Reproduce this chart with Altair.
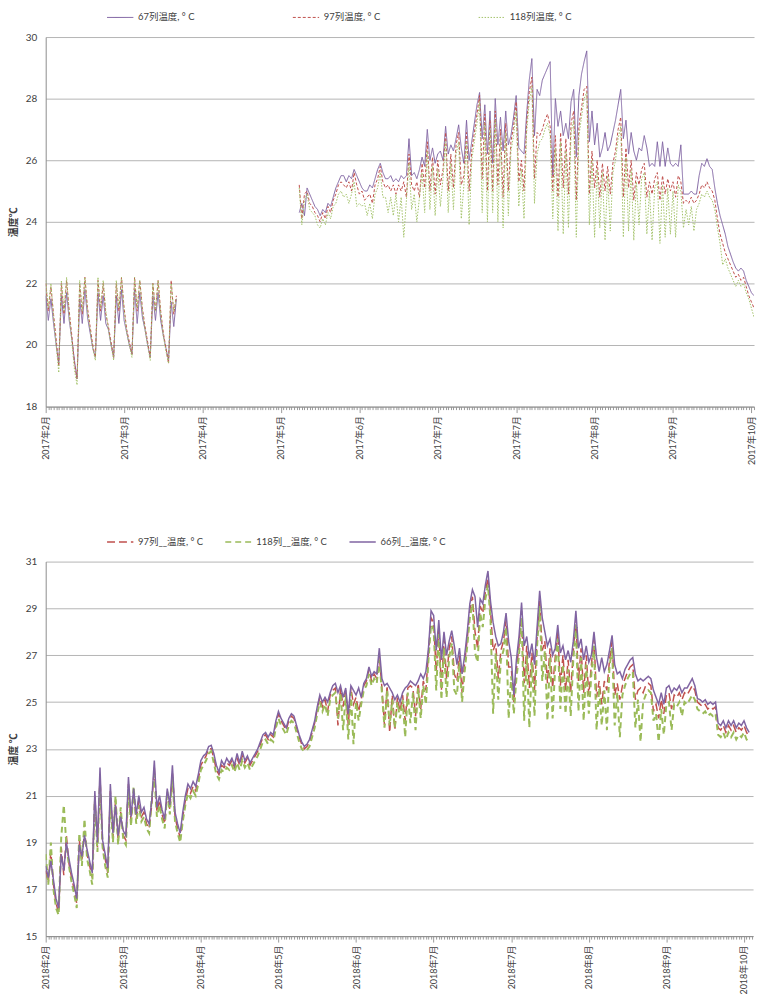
import altair as alt
import pandas as pd

FONT = "Lato, 'Noto Sans CJK SC', sans-serif"

# ---------------- 2017 panel (daily values) ----------------
top_names = ["67列温度, ° C", "97列温度, ° C", "118列温度, ° C"]
top_seg_a_start = "2017-02-01"
top_seg_b_start = "2017-05-09"

top_a_67 = [21.6,20.8,21.5,20.7,20.0,19.4,21.6,20.7,21.7,20.8,
            20.2,19.5,18.9,21.5,20.7,21.8,20.9,20.4,19.9,19.6,
            21.7,20.8,21.6,20.7,20.5,20.0,19.6,21.6,20.7,21.8,
            20.8,20.4,20.0,19.7,21.8,20.7,21.7,20.9,20.5,20.0,
            19.6,21.6,20.8,21.7,20.8,20.3,19.9,19.5,21.4,20.6,21.5]
top_a_97 = [22.0,21.1,21.9,21.0,20.2,19.3,22.0,21.0,22.1,21.1,
            20.3,19.4,18.9,22.0,21.0,22.2,21.2,20.6,20.0,19.6,
            22.1,21.1,22.0,21.0,20.6,20.1,19.6,22.0,21.1,22.2,
            21.2,20.5,20.1,19.7,22.2,21.1,22.1,21.2,20.6,20.1,
            19.6,22.0,21.1,22.1,21.1,20.4,19.9,19.4,22.1,21.0,21.6]
top_a_118 = [22.1,21.2,22.0,20.9,20.0,19.1,22.1,21.1,22.2,21.0,
             20.1,19.2,18.7,22.1,21.1,22.2,21.1,20.5,19.9,19.5,
             22.2,21.2,22.1,21.1,20.5,20.0,19.5,22.1,21.2,22.2,
             21.1,20.4,20.0,19.6,22.2,21.2,22.1,21.1,20.5,20.0,
             19.5,22.0,21.1,22.1,21.0,20.3,19.8,19.4,22.0,21.1,21.5]

top_b_67 = [24.3,24.6,24.2,25.1,24.9,24.7,24.5,24.4,24.2,24.4,
            24.3,24.6,24.5,24.8,25.1,25.3,25.5,25.5,25.3,25.5,
            25.4,25.7,25.5,25.3,25.1,25.0,25.0,25.2,25.1,25.4,
            25.7,25.9,25.6,25.4,25.4,25.5,25.3,25.4,25.3,25.5,
            25.4,25.5,26.7,25.5,25.6,25.4,25.7,26.1,25.8,27.0,
            26.0,26.4,25.9,26.2,26.3,26.0,27.1,26.2,26.5,26.3,
            26.7,27.15,26.4,25.9,27.3,26.0,26.6,27.2,27.8,28.2,
            26.7,27.8,26.2,27.6,25.9,28.0,26.5,27.4,26.3,27.6,
            26.5,26.8,27.4,28.1,26.4,26.3,26.2,27.5,28.6,29.3,
            26.8,28.3,28.1,28.6,28.8,29.0,29.2,25.5,28.0,27.1,
            27.6,26.8,27.2,26.7,27.9,28.3,26.1,28.1,28.8,29.2,
            29.55,26.6,27.6,26.5,27.2,26.1,26.4,26.9,26.3,26.5,
            26.9,27.3,27.8,28.3,26.7,27.3,26.2,26.9,26.3,26.0,
            26.4,26.3,26.8,26.4,25.8,25.9,25.8,26.6,25.8,26.6,
            25.8,26.4,25.9,25.8,25.9,25.8,26.5,24.9,24.9,24.9,
            25.0,24.9,24.9,25.5,25.9,25.8,26.05,25.8,25.7,25.1,
            24.6,24.2,23.9,23.6,23.2,22.95,22.7,22.5,22.4,22.5,
            22.4,22.1,21.9,21.7,21.6]
top_b_97 = [25.2,24.1,24.9,25.0,24.6,24.5,24.3,24.2,24.0,24.3,
            24.1,24.5,24.3,24.7,24.9,25.2,25.3,25.2,25.1,25.3,
            25.0,25.6,25.2,24.9,25.0,24.7,24.8,24.9,24.6,25.2,
            25.4,25.8,25.3,25.1,25.2,25.0,25.2,24.9,25.2,25.0,
            25.3,24.8,26.2,25.2,25.0,25.3,24.8,25.9,25.1,26.6,
            25.0,26.1,24.9,26.0,25.2,25.7,26.9,25.0,26.2,25.1,
            26.5,26.9,25.2,25.5,26.9,25.0,26.3,26.9,27.5,28.1,
            25.4,27.5,25.0,27.3,25.0,27.6,25.2,27.0,24.8,27.2,
            25.0,26.6,27.1,27.9,25.3,26.0,25.0,27.2,28.2,28.7,
            25.4,26.9,26.8,27.0,27.3,27.5,27.1,25.0,26.8,24.8,
            26.9,25.1,26.7,24.9,27.2,27.6,24.7,27.1,27.7,28.3,
            28.4,24.9,26.3,25.1,26.0,24.8,25.9,25.0,25.8,24.9,
            25.9,26.3,27.0,27.4,24.8,26.4,25.1,26.0,24.7,25.6,
            25.2,25.7,25.9,24.8,25.3,24.9,25.4,25.6,24.7,25.5,
            24.9,25.4,25.0,25.3,24.8,25.5,25.3,24.6,24.7,24.6,
            24.8,24.6,24.7,24.9,25.2,25.1,25.3,25.1,25.0,24.7,
            24.1,23.6,23.3,23.0,22.8,22.6,22.4,22.2,22.3,22.1,
            22.2,21.9,21.6,21.4,21.2]
top_b_118 = [25.1,23.9,24.7,24.9,24.4,24.3,24.2,23.9,23.8,24.1,
             23.9,24.3,24.1,24.5,24.6,24.9,25.0,24.8,24.9,24.6,
             24.9,25.3,24.5,24.6,24.5,24.6,24.2,24.6,24.1,24.9,
             25.1,25.6,24.8,24.8,24.3,24.8,24.2,24.9,24.0,24.8,
             23.5,24.7,25.9,24.4,24.9,24.0,24.8,25.6,24.3,26.3,
             24.4,25.8,24.2,25.7,24.5,25.4,26.6,24.3,25.9,24.4,
             26.2,26.6,24.1,25.2,26.6,23.9,26.0,26.6,27.2,27.9,
             24.3,27.2,24.0,27.0,24.3,27.3,24.0,26.7,23.8,26.9,
             24.2,26.3,26.8,27.6,24.5,25.7,24.1,26.9,27.9,28.4,
             24.6,26.2,26.6,26.7,27.0,27.2,26.8,24.1,26.4,23.7,
             26.6,23.6,26.3,23.8,26.9,27.3,23.5,26.8,27.4,28.0,
             28.2,23.9,26.0,23.5,25.7,23.8,25.6,23.4,25.5,23.7,
             25.6,26.0,26.7,27.1,23.5,26.1,23.7,25.7,23.4,25.3,
             23.9,25.4,25.6,23.6,25.0,23.4,25.1,25.3,23.3,25.2,
             23.5,25.1,23.6,25.0,23.5,25.2,25.0,23.8,24.4,23.9,
             24.5,23.7,24.4,24.6,24.9,24.8,25.0,24.8,24.7,24.4,
             23.8,23.3,22.6,22.8,22.5,22.3,22.1,21.9,22.1,21.9,
             22.0,21.7,21.5,21.2,20.9]

# ---------------- 2018 panel (daily values) ----------------
bot_names = ["97列__温度, ° C", "118列__温度, ° C", "66列__温度, ° C"]
bot_start = "2018-02-01"

bot_97 = [17.8,17.3,18.6,17.2,16.4,16.0,18.8,17.6,19.3,18.1,
          17.5,17.0,16.4,19.1,18.2,19.5,18.5,18.0,17.5,21.0,
          18.8,21.8,18.9,18.3,17.7,21.2,19.2,20.8,19.1,20.3,
          19.3,19.1,21.5,19.9,21.1,20.0,20.8,20.1,20.3,19.8,
          19.6,20.6,22.2,20.3,20.8,20.2,19.8,21.1,20.4,22.0,
          20.1,19.6,19.2,20.1,20.8,21.3,21.1,21.4,21.2,21.7,
          22.3,22.5,22.7,23.0,23.0,22.6,22.1,21.9,22.3,22.2,
          22.4,22.3,22.5,22.2,22.6,22.3,22.7,22.4,22.6,22.3,
          22.5,22.7,22.9,23.2,23.5,23.6,23.4,23.6,23.5,24.1,
          24.5,24.2,24.0,23.8,24.2,24.4,24.3,23.9,23.5,23.2,
          23.0,23.1,23.3,23.7,24.1,24.7,25.2,24.8,25.1,24.6,
          25.3,25.5,25.6,24.0,25.6,24.8,25.5,24.0,25.6,24.9,
          25.2,24.6,25.1,25.7,25.9,26.4,25.9,26.2,26.0,27.0,
          25.6,24.0,25.7,23.7,25.3,23.8,25.2,24.6,25.3,24.2,
          25.6,25.7,25.6,24.4,25.8,24.7,25.9,25.5,27.1,28.6,
          28.4,26.3,28.2,25.5,27.7,26.0,27.3,27.8,26.2,25.9,
          27.0,25.4,26.7,27.7,28.9,29.5,28.0,27.3,29.1,28.8,
          29.7,30.3,28.9,27.2,27.5,26.0,27.2,27.6,28.5,26.5,
          26.5,25.0,26.4,27.4,28.9,25.8,27.4,25.6,27.1,25.5,
          27.8,29.4,27.2,27.6,25.8,27.3,25.6,26.9,28.0,25.7,
          27.0,25.5,26.8,25.4,27.2,28.6,25.9,27.3,25.4,27.0,
          25.3,26.6,27.7,25.2,25.9,24.9,25.9,25.5,26.8,27.6,
          25.3,25.8,25.1,25.7,26.0,26.3,26.5,26.6,25.1,25.5,
          25.6,25.4,25.7,25.8,25.7,24.6,24.9,24.3,25.1,24.5,
          25.3,25.4,24.7,25.3,25.2,25.4,25.1,25.4,25.3,25.5,
          25.7,25.5,25.0,24.9,24.8,24.9,24.7,24.8,24.7,24.8,
          23.9,23.8,24.0,23.7,24.0,23.8,24.0,23.7,23.9,23.8,
          24.0,23.7,23.5]
bot_118 = [18.5,17.2,19.0,17.0,16.2,15.9,19.2,20.6,18.9,18.0,
           17.3,16.8,16.2,19.4,18.0,20.0,18.3,17.8,17.2,20.8,
           18.6,21.5,18.8,18.0,17.5,20.9,19.0,21.0,18.9,20.5,
           19.1,18.9,21.3,19.7,21.4,19.8,20.6,19.9,20.1,19.6,
           19.4,20.9,21.9,20.1,20.6,20.0,19.6,21.2,20.2,21.8,
           19.9,19.4,19.0,19.9,20.6,21.1,20.9,21.2,21.0,21.5,
           22.1,22.3,22.5,22.8,22.9,22.4,21.9,21.7,22.1,22.0,
           22.2,22.1,22.3,22.0,22.4,22.1,22.5,22.2,22.4,22.1,
           22.3,22.5,22.7,23.0,23.3,23.4,23.2,23.4,23.3,23.9,
           24.3,24.0,23.8,23.6,24.0,24.2,24.1,23.7,23.3,23.0,
           22.9,22.95,23.1,23.5,23.9,24.5,25.0,24.6,24.9,24.4,
           25.1,25.3,25.4,24.3,25.4,23.8,25.3,23.4,25.4,23.2,
           25.0,24.2,24.9,25.5,25.7,26.2,25.7,26.0,25.8,26.8,
           25.4,23.9,25.5,24.0,25.1,23.9,25.0,24.3,25.1,23.5,
           25.4,24.1,25.4,23.8,25.6,24.3,25.7,24.9,26.8,28.3,
           28.1,25.5,27.9,25.1,27.3,25.2,26.9,27.5,25.5,25.3,
           26.7,25.0,26.3,27.4,28.6,29.2,27.1,26.7,28.8,28.2,
           29.4,30.0,28.5,24.5,27.1,25.1,26.8,27.2,28.2,24.3,
           26.1,24.5,26.0,27.0,28.6,24.2,27.0,23.9,26.7,24.4,
           27.4,29.1,25.9,27.2,24.2,26.9,24.3,26.5,27.7,24.7,
           26.6,24.5,26.4,24.4,26.8,28.3,24.6,26.9,24.2,26.6,
           24.5,26.2,27.4,23.8,25.6,24.0,25.5,23.8,26.5,27.3,
           24.0,25.4,23.5,25.3,25.7,26.0,26.2,26.3,23.9,25.1,
           23.3,25.0,25.3,25.5,25.4,24.2,24.5,23.3,24.7,23.6,
           24.9,25.0,23.8,24.9,24.8,25.0,24.4,25.0,24.9,25.1,
           25.3,25.1,24.7,24.6,24.5,24.6,24.4,24.5,24.4,24.5,
           23.6,23.5,23.7,23.4,23.7,23.5,23.7,23.4,23.6,23.5,
           23.7,23.4,23.3]
bot_66 = [18.0,17.5,18.2,17.4,16.6,16.2,18.5,17.8,19.0,18.3,
          17.7,17.2,16.6,18.9,18.4,19.3,18.7,18.2,17.7,21.2,
          19.0,22.2,19.1,18.5,17.9,21.5,19.4,20.6,19.3,20.1,
          19.5,19.3,21.8,20.1,21.3,20.2,21.0,20.3,20.5,20.0,
          19.8,20.8,22.5,20.5,21.0,20.4,20.0,21.3,20.6,22.3,
          20.3,19.8,19.4,20.3,21.0,21.5,21.3,21.6,21.4,21.9,
          22.5,22.7,22.8,23.1,23.15,22.8,22.3,22.0,22.5,22.3,
          22.6,22.4,22.6,22.3,22.8,22.4,22.9,22.5,22.7,22.4,
          22.6,22.8,23.0,23.3,23.6,23.7,23.5,23.7,23.6,24.2,
          24.6,24.3,24.1,23.9,24.3,24.5,24.4,24.0,23.6,23.3,
          23.1,23.2,23.4,23.8,24.2,24.8,25.3,25.0,25.2,25.0,
          25.4,25.7,25.8,25.4,25.7,25.2,25.6,24.5,25.7,25.5,
          25.3,25.6,25.2,25.8,26.0,26.5,26.1,26.3,26.2,27.3,
          26.0,25.7,25.8,25.6,25.4,25.1,25.3,25.0,25.4,25.6,
          25.7,25.9,25.8,25.7,25.9,26.2,26.0,26.3,27.3,28.9,
          28.7,27.2,28.5,26.8,28.0,27.0,27.6,28.05,27.4,26.6,
          27.3,26.2,27.0,28.0,29.2,29.8,29.5,28.2,29.4,29.2,
          30.0,30.6,29.3,28.4,27.8,27.4,27.5,28.0,28.8,27.6,
          26.9,25.3,26.8,27.8,29.25,27.4,27.8,26.9,27.5,26.6,
          28.2,29.75,28.6,28.0,27.4,27.7,27.0,27.3,28.3,27.1,
          27.4,26.8,27.2,26.7,27.6,28.9,27.3,27.7,26.8,27.4,
          26.7,27.0,28.0,26.9,26.3,26.9,26.3,26.6,27.2,27.85,
          26.6,26.2,26.3,26.0,26.4,26.6,26.8,26.9,26.2,25.9,
          26.0,25.9,26.0,26.1,26.0,25.5,25.2,24.9,25.4,24.9,
          25.6,25.7,25.4,25.6,25.5,25.7,25.4,25.6,25.6,25.8,
          26.0,25.7,25.15,25.1,25.0,25.1,24.9,25.0,24.9,25.0,
          24.1,24.0,24.2,23.9,24.2,24.0,24.2,23.9,24.1,24.0,
          24.2,23.9,23.7]

top_y_ticks = [18, 20, 22, 24, 26, 28, 30]
bot_y_ticks = [15, 17, 19, 21, 23, 25, 27, 29, 31]


def rows(start, lists, names, seg):
    out = []
    t0 = pd.Timestamp(start)
    for name, vals in zip(names, lists):
        for i, v in enumerate(vals):
            out.append({"date": (t0 + pd.Timedelta(days=i)).strftime("%Y-%m-%dT%H:%M:%S"),
                        "value": v, "series": name, "seg": seg})
    return out


top_df = pd.DataFrame(rows(top_seg_a_start, [top_a_67, top_a_97, top_a_118], top_names, "a")
                      + rows(top_seg_b_start, [top_b_67, top_b_97, top_b_118], top_names, "b"))
bot_df = pd.DataFrame(rows(bot_start, [bot_97, bot_118, bot_66], bot_names, "a"))


def dt(ts):
    return alt.DateTime(year=ts.year, month=ts.month, date=ts.day, hours=ts.hour)


def x_axis(year, ndays):
    test = f"round((datum.value - datetime({year},1,1)) / 86400000) % 30 == 0"
    vals = [dt(d) for d in pd.date_range(f"{year}-02-01", periods=ndays, freq="D")]
    return alt.Axis(values=vals,
                    labelExpr=f"{test} ? timeFormat(datum.value, '%Y年%-m月') : ''",
                    labelAngle=270, labelFontSize=9, labelColor="#404040", labelFont=FONT,
                    labelOverlap=False, labelBound=False, labelFlush=False, labelPadding=3,
                    tickSize={"condition": {"test": test, "value": 6}, "value": 3},
                    tickColor="#9A9A9A", domainColor="#8C8C8C", grid=False, title=None)


def y_axis(vals, title):
    return alt.Axis(values=vals, title=title, titleFont=FONT, titleFontSize=10,
                    titleFontWeight="bold", titleColor="#404040", titlePadding=7,
                    labelFont=FONT, labelFontSize=10, labelColor="#404040", labelPadding=9,
                    ticks=False, domainColor="#8C8C8C", gridColor="#B4B4B4", gridWidth=1,
                    minExtent=20, maxExtent=20)


def legend(colpad, sw):
    return alt.Legend(title=None, orient="none", legendX=61, legendY=-34, padding=0,
                      direction="horizontal", symbolType="stroke", symbolSize=700,
                      symbolStrokeWidth=sw, labelFont=FONT, labelFontSize=9.5,
                      labelColor="#404040", columnPadding=colpad, labelOffset=4)


def panel(df, names, colors, dashes, widths, order, xscale, xaxis, yscale, yaxis, leg, w, h):
    layers = []
    for name in order:
        i = names.index(name)
        layers.append(
            alt.Chart().transform_filter(alt.datum.series == name)
            .mark_line(strokeWidth=widths[i], clip=True)
            .encode(
                x=alt.X("date:T", scale=xscale, axis=xaxis),
                y=alt.Y("value:Q", scale=yscale, axis=yaxis),
                color=alt.Color("series:N", scale=alt.Scale(domain=names, range=colors), legend=leg),
                strokeDash=alt.StrokeDash("series:N", scale=alt.Scale(domain=names, range=dashes), legend=leg),
                detail="seg:N",
            )
        )
    return alt.layer(*layers, data=df).properties(width=w, height=h)


top = panel(
    top_df, top_names,
    ["#8064A2", "#C0504D", "#A3C26A"],
    [[1, 0], [3, 2], [1.5, 1.5]],
    [1.0, 1.0, 1.0],
    top_names,
    alt.Scale(domain=[alt.DateTime(year=2017, month=2, date=1), alt.DateTime(year=2017, month=10, date=30)]),
    x_axis(2017, 272),
    alt.Scale(domain=[18, 30], nice=False, zero=False),
    y_axis(top_y_ticks, "温度℃"),
    legend(96, 1), 713, 372,
)

bottom = panel(
    bot_df, bot_names,
    ["#C0504D", "#9BBB59", "#8064A2"],
    [[8, 4], [6, 4], [1, 0]],
    [1.5, 2.0, 1.5],
    bot_names,
    alt.Scale(domain=[alt.DateTime(year=2018, month=2, date=1), alt.DateTime(year=2018, month=11, date=1, hours=12)]),
    x_axis(2018, 274),
    alt.Scale(domain=[15, 31], nice=False, zero=False),
    y_axis(bot_y_ticks, "温度 ℃"),
    legend(18, 1.5), 712, 377,
)

chart = (
    alt.vconcat(top, bottom, spacing=63)
    .resolve_scale(color="independent", strokeDash="independent", x="independent", y="independent")
    .configure_view(stroke=None)
    .properties(padding={"left": 9, "top": 0, "right": 0, "bottom": 0}, background="white")
)

chart.save("out.html", embed_options={"renderer": "svg", "actions": False})
